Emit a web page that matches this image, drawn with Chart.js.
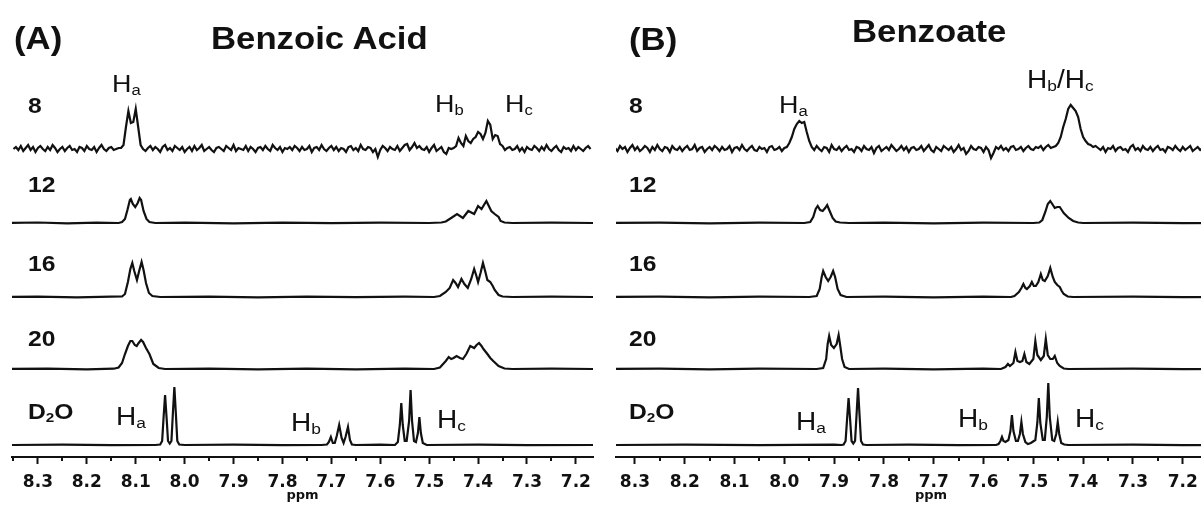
<!DOCTYPE html>
<html>
<head>
<meta charset="utf-8">
<script src="https://cdn.jsdelivr.net/npm/chart.js@4.4.1/dist/chart.umd.min.js"></script>
<style>
  html, body { margin: 0; padding: 0; background: #fff; overflow: hidden; }
  #fig { position: relative; width: 1201px; height: 510px; overflow: hidden; background: #fff; }
  #fig canvas { position: absolute; top: 0; }
  .t { position: absolute; font-family: "Liberation Sans", Arial, sans-serif; line-height: 1; white-space: nowrap; color: #111; transform: scaleX(1.12); transform-origin: 0 0; }
  .t sub { font-size: .62em; vertical-align: -.22em; line-height: 0; }
</style>
</head>
<body>
<div id="fig">
  <canvas id="panelA" width="600" height="510" style="left:0"></canvas>
  <canvas id="panelB" width="646" height="510" style="left:600px"></canvas>
</div>
<script>
// ---- data (ppm, intensity) ----
// noisy 8-scan traces are sampled on a regular ppm grid
const gridStep = 0.005;
const a8Start = 8.35;
const a8 = [
  0,2,-1,3,-2,1,4,-1,2,-3, 1,3,0,-2,2,-1,4,1,-3,0, 2,-2,1,3,-1,0,-3,2,1,-2, 3,0,-1,2,-3,1,4,0,-2,1, 2,-1,0,1,
  1,4,22,38,26,27,40,22,4,0,
  -2,1,3,-1,2,0,-3,2,4,-1, 1,-2,3,1,-1,2,-3,0,2,-2, 3,-1,1,4,-2,0,2,-1,-3,1, 2,0,-2,3,1,-1,4,-2,1,0,
  -1,3,-2,2,0,-3,1,2,-1,3, 0,-2,4,1,-1,2,-3,1,0,2, -1,3,1,-2,2,-1,0,3,-3,1, 2,-1,4,0,-2,1,3,-1,2,-2,
  1,0,-3,2,3,-1,1,-2,4,0, -1,2,1,-3,0,-8,-1,3,1,-2, 2,0,-1,3,-2,1,4,5,-1,2, 6,1,3,0,-1,2,-3,1,4,-2,
  0,2,-3,-5,1,0,
  1,3,11,6,3,13,8,6,10,12,17,15,10,16,28,24,10,14,13,5,3,-1,1,
  2,-1,0,3,-2,1,-3,2,0,-1, 3,1,-2,2,-1,4,0,-2,1,3, -1,-3,2,0,1,-2,3,-1,2,0, -2,1,3,0
];
const b8Start = 8.34;
const b8 = [
  1,-2,3,0,2,-3,1,4,-1,2, -2,0,3,1,-3,2,-1,4,0,-2, 2,1,-3,3,0,-1,2,-2,1,3, -1,0,4,-2,1,2,-3,0,2,-1,
  3,1,-2,2,-1,0,3,-3,1,2, -1,4,0,-2,1,3,-1,-2,2,0, 1,-3,2,3,-1,0,2,-2,1,
  2,6,12,20,25,28,26,27,17,8,2,
  -1,3,0,-2,2,1,-3,4,0,-1, 2,-2,1,3,-1,0,-3,2,1,-2, 3,0,-1,2,-4,1,3,-2,0,2, -1,4,1,-2,0,3,-1,2,-3,1,
  2,-1,0,3,-2,1,4,-1,-3,2, 0,-2,3,1,-1,2,-3,0,4,-1, 1,-5,-2,3,0,-1,2,1,-3,2, -1,-9,-4,2,0,3,-1,1,-2,2,
  3,-1,0,2,-2,1,3,0,-1,2, 1,3,-1,2,4,1,2,
  3,6,12,22,30,40,44,41,38,32,20,12,8,5,4,2,3,1,
  -1,2,-3,1,0,3,-2,1,2,-1, 0,-3,2,4,-1,1,-2,3,0,-1, 2,-2,1,3,-1,0,-3,2,1,-1, 3,0,-2,2,-1,1,3,-2,0,2, -1,1
];

// benzoic acid
const a12 = [[8.36,0],[8.30,0.5],[8.24,-0.3],[8.18,0.4],[8.135,0],[8.128,1],[8.122,4],[8.117,13],[8.112,23],[8.110,24],
  [8.106,19],[8.101,16],[8.096,20],[8.092,25],[8.089,23],[8.084,12],[8.078,4],[8.072,1],[8.06,0],[8.0,0.4],[7.9,-0.3],
  [7.8,0.4],[7.7,-0.2],[7.6,0.4],[7.5,0],[7.475,0.5],[7.466,1.5],[7.455,5],[7.443,9],[7.431,5],[7.42,12],[7.408,9],
  [7.40,17],[7.393,14],[7.383,22],[7.373,12],[7.366,9],[7.358,6],[7.354,2],[7.346,0.5],[7.33,0],[7.25,0.4],[7.16,0]];
const a16 = [[8.36,0],[8.30,0.4],[8.22,-0.3],[8.15,0.3],[8.128,0.5],[8.122,3],[8.116,15],[8.111,28],[8.107,34],[8.103,26],
  [8.0975,17],[8.093,26],[8.088,35],[8.084,27],[8.079,14],[8.073,4],[8.066,1],[8.05,0],[7.95,0.4],[7.85,-0.3],[7.75,0.4],
  [7.65,-0.2],[7.55,0.3],[7.49,0],[7.478,1],[7.466,5],[7.458,9],[7.451,17],[7.446,14],[7.441,10],[7.434,18],[7.428,13],
  [7.421,9],[7.414,18],[7.408,28],[7.404,22],[7.40,15],[7.395,24],[7.390,34],[7.385,25],[7.381,17],[7.375,15],[7.37,11],
  [7.366,7],[7.358,2],[7.35,0.5],[7.33,0],[7.25,0.3],[7.16,0]];
const a20 = [[8.36,0],[8.28,0.4],[8.2,-0.3],[8.145,0.3],[8.135,1.5],[8.128,6],[8.122,15],[8.116,23],[8.111,28],[8.107,28],
  [8.102,24],[8.098,23],[8.094,26],[8.089,29],[8.085,27],[8.079,21],[8.072,15],[8.064,5],[8.053,1],[8.04,0],[7.95,0.4],
  [7.85,-0.3],[7.75,0.4],[7.65,-0.3],[7.55,0.3],[7.49,0],[7.478,1.5],[7.466,8],[7.46,12],[7.455,10],[7.45,11],[7.444,13],
  [7.437,11],[7.431,10],[7.424,15],[7.416,23],[7.408,21],[7.403,24],[7.398,26],[7.393,23],[7.389,20],[7.381,15],[7.375,11],
  [7.369,8],[7.358,3],[7.346,0.5],[7.33,0],[7.25,0.3],[7.16,0]];
const aD2O = [[8.36,0],[8.25,0.3],[8.15,-0.2],[8.06,0],[8.050,0.5],[8.046,4],[8.043,28],[8.040,50],[8.037,28],[8.034,4],
  [8.0305,1.5],[8.027,4],[8.024,32],[8.021,58],[8.018,32],[8.015,4],[8.011,0.5],[8.0,0],[7.9,0.3],[7.8,-0.2],[7.72,0],
  [7.709,0.5],[7.705,3],[7.701,8],[7.697,2],[7.693,2],[7.689,9],[7.684,20],[7.679,7],[7.675,2],[7.671,8],[7.666,18],
  [7.662,5],[7.658,0.5],[7.65,0],[7.6,0.3],[7.57,0],[7.564,3],[7.560,20],[7.557,42],[7.554,20],[7.550,4],[7.546,4],
  [7.541,24],[7.538,55],[7.535,24],[7.531,4],[7.527,3],[7.523,12],[7.520,28],[7.517,12],[7.513,2],[7.505,0],[7.4,0.3],
  [7.3,-0.2],[7.16,0]];

// benzoate
const b12 = [[8.35,0],[8.25,0.4],[8.15,-0.3],[8.05,0.3],[7.96,0],[7.948,1],[7.942,6],[7.937,14],[7.933,17],[7.928,13],
  [7.923,12],[7.918,15],[7.914,18],[7.909,12],[7.903,5],[7.897,1.5],[7.888,0.5],[7.87,0],[7.8,0.4],[7.7,-0.3],[7.6,0.3],
  [7.5,0],[7.488,0.5],[7.482,3],[7.476,11],[7.471,19],[7.466,22],[7.462,19],[7.457,15],[7.452,16],[7.447,16],[7.443,13],
  [7.439,10],[7.433,7],[7.429,5],[7.42,2],[7.41,0.5],[7.40,0],[7.3,0.3],[7.2,-0.2],[7.07,0]];
const b16 = [[8.35,0],[8.25,0.3],[8.15,-0.3],[8.05,0.4],[7.95,0],[7.935,1],[7.929,8],[7.925,20],[7.922,26],[7.917,20],
  [7.912,16],[7.907,20],[7.902,26],[7.898,20],[7.893,8],[7.887,2],[7.875,0],[7.8,0.3],[7.7,-0.3],[7.6,0.3],[7.545,0],
  [7.538,1],[7.529,5],[7.524,9],[7.520,13],[7.516,9],[7.513,8],[7.507,11],[7.503,15],[7.499,11],[7.495,11],[7.49,15],
  [7.485,23],[7.481,17],[7.477,16],[7.471,21],[7.466,29],[7.461,20],[7.457,15],[7.452,12],[7.447,10],[7.443,6],[7.439,3],
  [7.431,0.5],[7.42,0],[7.3,0.3],[7.2,-0.2],[7.07,0]];
const b20 = [[8.35,0],[8.25,0.3],[8.15,-0.3],[8.05,0.3],[7.935,0],[7.922,1],[7.916,10],[7.913,25],[7.910,33],[7.906,24],
  [7.9005,21],[7.895,25],[7.891,34],[7.888,24],[7.884,10],[7.879,2],[7.87,0],[7.8,0.3],[7.7,-0.3],[7.6,0.3],[7.565,0],
  [7.556,2],[7.551,5],[7.547,3],[7.540,6],[7.536,17],[7.532,8],[7.527,7],[7.522,8],[7.518,15],[7.514,7],[7.508,5],
  [7.500,10],[7.496,28],[7.492,14],[7.485,9],[7.479,13],[7.475,30],[7.471,14],[7.466,10],[7.461,10],[7.457,13],[7.452,6],
  [7.447,3],[7.439,0.5],[7.43,0],[7.3,0.3],[7.2,-0.2],[7.07,0]];
const bD2O = [[8.35,0],[8.2,0.3],[8.05,-0.2],[7.9,0.3],[7.885,0],[7.881,0.5],[7.877,4],[7.874,26],[7.871,47],[7.868,26],
  [7.865,4],[7.8615,1.5],[7.858,4],[7.855,30],[7.852,57],[7.849,30],[7.846,4],[7.842,0.5],[7.835,0],[7.75,0.3],[7.65,-0.2],
  [7.575,0],[7.570,1],[7.566,4],[7.563,8],[7.560,4],[7.556,3],[7.550,5],[7.546,14],[7.543,30],[7.540,14],[7.535,4],
  [7.531,4],[7.527,11],[7.524,23],[7.521,11],[7.516,3],[7.511,1],[7.505,2],[7.496,5],[7.492,22],[7.489,47],[7.486,22],
  [7.481,5],[7.477,5],[7.473,28],[7.470,62],[7.467,28],[7.462,5],[7.458,4],[7.454,11],[7.451,23],[7.448,11],[7.444,2],
  [7.438,0.5],[7.43,0],[7.3,0.3],[7.2,-0.2],[7.07,0]];

const scanLabels = ['8', '12', '16', '20', 'D<sub>2</sub>O'];
const tickLabels = ['8.3', '8.2', '8.1', '8.0', '7.9', '7.8', '7.7', '7.6', '7.5', '7.4', '7.3', '7.2'];
const tickStep = 0.05;

// ---- layout ----
// y scale is 0..457 so one unit = one pixel above the ppm axis
const plotTop = 457;
const baselines = [149, 223, 297, 369, 445];
const offsets = baselines.map(b => plotTop - b);
const labelBase = [114, 193, 272, 347, 420];

function gridPoints(vals, start, off) {
  return vals.map((v, i) => ({ x: +(start - i * gridStep).toFixed(3), y: v + off }));
}
function pairPoints(pairs, off) {
  return pairs.map(([p, v]) => ({ x: p, y: v + off }));
}

const isMajor = v => tickLabels.includes(v.toFixed(2).slice(0, -1)) && Math.abs(v * 10 - Math.round(v * 10)) < 1e-6;

// every half step gets a tick; labelled ones are long, the rest short
function halfStepTicks(scale) {
  const ticks = [];
  for (let k = Math.floor(scale.max / tickStep + 1e-9); k * tickStep >= scale.min - 1e-9; k--) {
    ticks.push({ value: +(k * tickStep).toFixed(2) });
  }
  scale.ticks = ticks;
}

const minorTicks = {
  id: 'minorTicks',
  afterDraw(chart) {
    const s = chart.scales.x;
    const c = chart.ctx;
    c.save();
    c.strokeStyle = '#111';
    c.lineWidth = 2;
    s.ticks.forEach(t => {
      if (!isMajor(t.value)) {
        const x = Math.round(s.getPixelForValue(t.value));
        c.beginPath();
        c.moveTo(x, s.top);
        c.lineTo(x, s.top + 4);
        c.stroke();
      }
    });
    c.restore();
  }
};

function makePanel(id, xMin, xMax, padLeft, padRight, traces) {
  return new Chart(document.getElementById(id), {
    type: 'line',
    data: {
      datasets: traces.map(d => ({
        data: d, borderColor: '#111', borderWidth: 2.2, pointRadius: 0, tension: 0, fill: false
      }))
    },
    options: {
      responsive: false,
      animation: false,
      events: [],
      layout: { padding: { left: padLeft, right: padRight, top: 0, bottom: 0 } },
      plugins: { legend: { display: false }, tooltip: { enabled: false } },
      scales: {
        y: { display: false, min: 0, max: plotTop },
        x: {
          type: 'linear',
          reverse: true,
          min: xMin,
          max: xMax,
          afterBuildTicks: halfStepTicks,
          afterFit: s => { s.height = 510 - plotTop; },
          border: { display: true, color: '#111', width: 2 },
          grid: {
            drawOnChartArea: false,
            tickLength: 7,
            tickWidth: 2,
            tickColor: c => (c.tick && isMajor(c.tick.value)) ? '#111' : 'rgba(0,0,0,0)'
          },
          ticks: {
            autoSkip: false,
            maxRotation: 0,
            minRotation: 0,
            padding: 8,
            color: '#111',
            font: { family: "'DejaVu Sans', sans-serif", weight: 'bold', size: 17 },
            callback: v => isMajor(v) ? v.toFixed(1) : ''
          },
          title: {
            display: true,
            text: 'ppm',
            color: '#111',
            font: { family: "'DejaVu Sans', sans-serif", weight: 'bold', size: 13 },
            padding: { top: 0, bottom: 7 }
          }
        }
      }
    },
    plugins: [minorTicks]
  });
}

makePanel('panelA', 7.165, 8.353, 12, 7, [
  gridPoints(a8, a8Start, offsets[0]),
  pairPoints(a12, offsets[1]),
  pairPoints(a16, offsets[2]),
  pairPoints(a20, offsets[3]),
  pairPoints(aD2O, offsets[4])
]);
makePanel('panelB', 7.073, 8.338, 16, 0, [
  gridPoints(b8, b8Start, offsets[0]),
  pairPoints(b12, offsets[1]),
  pairPoints(b16, offsets[2]),
  pairPoints(b20, offsets[3]),
  pairPoints(bD2O, offsets[4])
]);

// ---- text ----
// [html, left, baseline, size, bold]
const notes = [
  ['(A)', 14, 49, 31, true],
  ['Benzoic Acid', 211, 49, 31, true],
  ['(B)', 629, 50, 31, true],
  ['Benzoate', 852, 42, 31, true],
  ['H<sub>a</sub>', 112, 92, 24, false],
  ['H<sub>b</sub>', 435, 112, 24, false],
  ['H<sub>c</sub>', 505, 112, 24, false],
  ['H<sub>a</sub>', 116, 425, 25, false],
  ['H<sub>b</sub>', 291, 431, 25, false],
  ['H<sub>c</sub>', 437, 428, 25, false],
  ['H<sub>a</sub>', 779, 113, 24, false],
  ['H<sub>b</sub>/H<sub>c</sub>', 1027, 88, 25, false],
  ['H<sub>a</sub>', 796, 430, 25, false],
  ['H<sub>b</sub>', 958, 427, 25, false],
  ['H<sub>c</sub>', 1075, 427, 25, false]
];
scanLabels.forEach((s, i) => {
  notes.push([s, 28, labelBase[i], 22, true]);
  notes.push([s, 629, labelBase[i], 22, true]);
});

const fig = document.getElementById('fig');
notes.forEach(([html, x, base, size, bold]) => {
  const d = document.createElement('div');
  d.className = 't';
  d.innerHTML = html;
  d.style.left = x + 'px';
  d.style.top = (base - 0.8465 * size).toFixed(1) + 'px';
  d.style.fontSize = size + 'px';
  if (bold) d.style.fontWeight = 'bold';
  fig.appendChild(d);
});
</script>
</body>
</html>
